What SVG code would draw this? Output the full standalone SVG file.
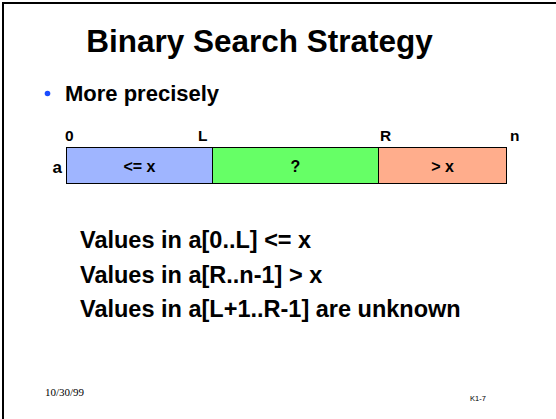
<svg xmlns="http://www.w3.org/2000/svg" width="556" height="419" viewBox="0 0 556 419">
<style>
.b{font-family:"Liberation Sans",Arial,sans-serif;font-weight:bold;fill:#000}
.cell{stroke:#000;stroke-width:1}
.lbl{font-size:15.5px}
.mid{text-anchor:middle}
</style>
<rect x="0" y="0" width="556" height="419" fill="#fff"/>
<g id="frame">
<line x1="2" y1="3" x2="556" y2="3" stroke="#000" stroke-width="2"/>
<line x1="3" y1="2" x2="3" y2="419" stroke="#000" stroke-width="2"/>
</g>
<g id="title"><text class="b mid" x="259.5" y="52" font-size="31.5">Binary Search Strategy</text></g>
<g id="bullet">
<circle cx="47.5" cy="93.5" r="2.8" fill="#1a4cff"/>
<text class="b" x="65" y="101" font-size="22">More precisely</text>
</g>
<g id="indices">
<text class="b lbl" x="65" y="141">0</text>
<text class="b lbl" x="198" y="141">L</text>
<text class="b lbl" x="380" y="141">R</text>
<text class="b lbl" x="510" y="141">n</text>
<text class="b" x="52.5" y="173" font-size="17">a</text>
</g>
<g id="cell-le">
<rect class="cell" x="66.5" y="147.5" width="146" height="36" fill="#9fb5ff"/>
<text class="b mid" x="139.5" y="172" font-size="16">&lt;= x</text>
</g>
<g id="cell-unknown">
<rect class="cell" x="212.5" y="147.5" width="166" height="36" fill="#66ff66"/>
<text class="b mid" x="295.5" y="172" font-size="16">?</text>
</g>
<g id="cell-gt">
<rect class="cell" x="378.5" y="147.5" width="128" height="36" fill="#ffad8c"/>
<text class="b mid" x="442.5" y="172" font-size="16">&gt; x</text>
</g>
<g id="connectors"></g>
<g id="body">
<text class="b" x="80" y="248" font-size="23.5">Values in a[0..L] &lt;= x</text>
<text class="b" x="80" y="283" font-size="23.5">Values in a[R..n-1] &gt; x</text>
<text class="b" x="80" y="317" font-size="23.5">Values in a[L+1..R-1] are unknown</text>
</g>
<g id="footer">
<text x="45" y="396" font-family="'Liberation Serif','Times New Roman',serif" font-size="11" fill="#000">10/30/99</text>
<text x="470" y="401" font-family="'Liberation Sans',Arial,sans-serif" font-size="7.5" fill="#000">K1-7</text>
</g>
</svg>
